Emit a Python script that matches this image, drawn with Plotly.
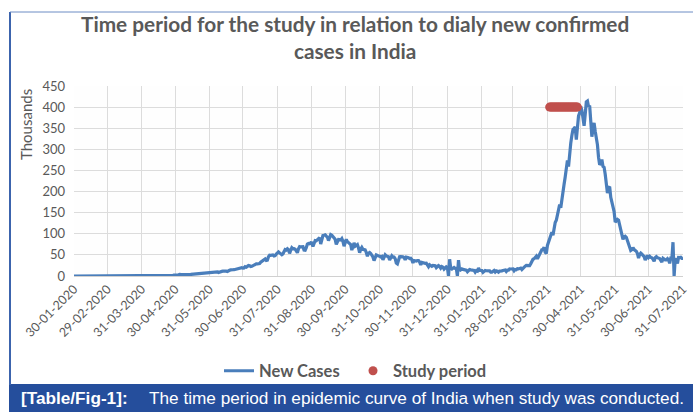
import pandas as pd
import plotly.graph_objects as go

# ---------------- data (thousands of new cases per day) ----------------
start_date = "2020-01-30"
new_cases_k = [
    # Jan 2020 (30-31)
    0, 0,
    # Feb 2020
    0, 0.003, 0.001, 0, 0, 0, 0, 0, 0, 0, 0, 0, 0, 0, 0, 0, 0, 0, 0, 0, 0, 0, 0, 0, 0, 0, 0, 0, 0,
    # Mar 2020
    0, 0.002, 0, 0.02, 0.002, 0.001, 0.003, 0.005, 0.01, 0.02, 0.02, 0.01, 0.01, 0.02, 0.02, 0.01,
    0.01, 0.02, 0.03, 0.05, 0.07, 0.08, 0.1, 0.08, 0.09, 0.1, 0.15, 0.16, 0.1, 0.23, 0.3,
    # Apr 2020
    0.4, 0.5, 0.5, 0.6, 0.6, 0.5, 0.6, 0.5, 0.6, 0.9, 0.9, 0.9, 0.8, 1.0, 1.1, 0.9, 1.0, 1.1, 1.3, 1.5,
    1.4, 1.4, 1.4, 1.7, 1.8, 1.5, 1.6, 1.5, 1.9, 1.8,
    # May 2020
    2.3, 2.6, 2.5, 3.9, 3.0, 3.6, 3.6, 3.3, 3.3, 4.2, 4.2, 3.6, 3.5, 3.7, 3.9, 4.9, 5.0, 4.6, 5.6, 5.6,
    6.0, 6.1, 6.6, 7.0, 6.5, 6.5, 7.2, 7.4, 7.9, 8.4, 8.8,
    # Jun 2020
    8.4, 7.8, 8.9, 9.3, 9.9, 9.9, 9.9, 8.4, 9.9, 11.0, 10.9, 11.5, 11.9, 12.0, 11.5, 10.7, 12.9, 13.6,
    14.5, 15.4, 14.8, 14.9, 15.7, 16.9, 16.9, 17.3, 18.6, 19.9, 19.5, 18.5,
    # Jul 2020
    19.1, 21.9, 20.9, 22.8, 24.9, 24.2, 22.3, 23.0, 24.9, 26.5, 27.1, 28.6, 28.5, 28.2, 29.4, 32.7,
    34.9, 34.8, 38.9, 40.4, 37.1, 37.7, 45.7, 49.3, 48.9, 50.0, 49.9, 47.7, 48.5, 52.1, 55.1,
    # Aug 2020
    57.1, 54.7, 52.9, 50.6, 52.5, 56.3, 62.5, 61.5, 64.4, 62.1, 53.6, 60.9, 66.9, 64.5, 65.0, 63.5,
    57.9, 55.1, 64.5, 69.7, 68.9, 69.9, 69.2, 61.4, 60.9, 67.2, 75.8, 77.3, 76.5, 78.8, 78.5,
    # Sep 2020
    69.9, 78.4, 83.9, 83.3, 86.4, 90.6, 90.8, 75.8, 89.7, 95.7, 96.6, 97.6, 94.4, 92.1, 83.8, 90.1,
    97.9, 96.4, 93.3, 92.6, 86.9, 75.1, 83.3, 86.5, 86.1, 85.4, 88.6, 82.2, 70.6, 80.5,
    # Oct 2020
    86.8, 81.5, 79.5, 75.8, 74.4, 61.3, 72.0, 78.5, 70.5, 73.3, 74.4, 66.7, 55.3, 63.5, 67.7, 63.3,
    62.2, 61.9, 55.7, 46.8, 54.0, 55.8, 53.4, 50.1, 45.1, 36.5, 43.9, 49.9, 48.6, 48.3, 46.9,
    # Nov 2020
    45.2, 46.3, 38.3, 46.3, 50.2, 47.6, 45.7, 45.7, 38.1, 44.3, 47.9, 44.9, 44.7, 41.1, 30.5, 28.6,
    38.6, 45.6, 45.9, 46.2, 45.2, 44.1, 37.9, 44.4, 44.5, 43.1, 41.3, 41.8, 38.8, 31.1,
    # Dec 2020
    36.6, 35.5, 35.6, 36.6, 36.6, 32.9, 26.6, 32.1, 31.5, 29.4, 30.0, 30.3, 27.0, 22.1, 26.4, 24.0,
    22.9, 25.2, 25.0, 24.3, 19.6, 23.9, 24.7, 23.0, 18.7, 22.3, 21.0, 16.4, 20.5, 21.8, 20.0,
    # Jan 2021
    0, 39.5, 18.2, 16.5, 18.1, 20.3, 18.1, 18.2, 0, 37.5, 12.6, 15.9, 16.9, 15.6, 15.2, 15.1,
    13.8, 10.1, 13.8, 15.2, 14.5, 14.3, 14.8, 13.2, 9.1, 12.7, 11.7, 18.9, 13.1, 13.1, 13.0,
    # Feb 2021
    8.6, 11.0, 12.9, 12.4, 11.7, 11.7, 12.1, 9.1, 9.1, 11.1, 12.9, 9.3, 12.1, 11.4, 9.1, 11.6,
    12.9, 12.2, 13.2, 13.9, 14.3, 10.6, 13.7, 13.7, 16.7, 16.6, 16.5, 16.8,
    # Mar 2021
    12.3, 15.5, 14.9, 17.4, 16.8, 18.3, 18.7, 15.4, 17.9, 22.9, 23.3, 24.9, 24.9, 26.3, 24.5, 28.9,
    35.9, 39.7, 40.9, 43.8, 46.9, 40.7, 47.3, 53.5, 59.1, 62.3, 62.7, 68.0, 56.2, 53.5, 72.3,
    # Apr 2021
    81.5, 89.1, 93.2, 103.6, 96.6, 115.7, 126.8, 131.9, 145.4, 152.9, 168.9, 161.7, 185.2, 200.7,
    217.4, 234.7, 261.5, 273.8, 259.2, 295.0, 314.8, 332.7, 346.8, 349.7, 352.9, 323.1, 360.9,
    379.3, 386.6, 401.9,
    # May 2021
    392.6, 368.1, 355.8, 382.3, 412.3, 414.2, 401.1, 403.7, 366.2, 329.9, 348.4, 362.7, 343.1,
    326.1, 311.2, 281.4, 263.5, 267.3, 276.1, 259.6, 257.3, 240.8, 222.3, 196.4, 208.9, 211.3,
    186.4, 173.8, 165.5, 152.7, 127.5,
    # Jun 2021
    132.8, 134.2, 132.4, 120.5, 114.5, 100.6, 86.5, 92.6, 94.1, 91.7, 84.3, 80.8, 70.4, 60.5, 62.2,
    67.2, 62.5, 60.8, 58.4, 53.3, 42.6, 50.8, 54.1, 51.7, 48.7, 46.1, 37.6, 45.9, 48.8, 43.7,
    # Jul 2021
    46.6, 44.1, 43.1, 39.8, 34.7, 43.7, 45.9, 43.4, 42.8, 41.5, 37.2, 32.9, 41.8, 38.8, 38.1, 38.1,
    41.2, 38.2, 30.1, 42.0, 41.4, 80.0, 0, 39.7, 39.4, 29.7, 43.7, 43.5, 44.2, 41.6, 41.8,
]

study_start = "2021-04-02"
study_end = "2021-04-27"
study_level_k = 400

tick_labels = [
    "30-01-2020", "29-02-2020", "31-03-2020", "30-04-2020", "31-05-2020", "30-06-2020",
    "31-07-2020", "31-08-2020", "30-09-2020", "31-10-2020", "30-11-2020", "31-12-2020",
    "31-01-2021", "28-02-2021", "31-03-2021", "30-04-2021", "31-05-2021", "30-06-2021",
    "31-07-2021",
]
y_ticks = [0, 50, 100, 150, 200, 250, 300, 350, 400, 450]

# ---------------- derived ----------------
dates = pd.date_range(start_date, periods=len(new_cases_k), freq="D")
study_dates = pd.date_range(study_start, study_end, freq="D")
study_vals = [study_level_k] * len(study_dates)
tick_dates = [pd.to_datetime(t, format="%d-%m-%Y") for t in tick_labels]

# ---------------- layout geometry (pixels) ----------------
W, H = 693, 412
L, R, T, B = 74, 683, 86, 276


def px(x):
    return (x - L) / (R - L)


def py(y):
    return (B - y) / (B - T)


GRAY = "#595959"
FONT = "Lato"

fig = go.Figure()
fig.add_trace(go.Scatter(
    x=dates, y=new_cases_k, mode="lines", name="New Cases",
    line=dict(color="#4a7ebb", width=3.2),
))
fig.add_trace(go.Scatter(
    x=study_dates, y=study_vals, mode="markers", name="Study period",
    marker=dict(color="#c0504d", size=9),
))

fig.update_layout(
    width=W, height=H,
    margin=dict(l=L, r=W - R, t=T, b=H - B, autoexpand=False),
    paper_bgcolor="white", plot_bgcolor="#fefefe",
    font=dict(family=FONT, color=GRAY),
    showlegend=True,
    legend=dict(
        orientation="h", x=px(219), y=py(371), xanchor="left", yanchor="middle",
        font=dict(family=FONT, size=16.5, color=GRAY, weight="bold"),
        itemwidth=30, entrywidth=89, entrywidthmode="pixels",
        tracegroupgap=0, bgcolor="rgba(0,0,0,0)",
    ),
    xaxis=dict(
        type="date", range=[tick_dates[0], tick_dates[-1]],
        tickvals=tick_dates, ticktext=tick_labels, tickangle=-45,
        tickfont=dict(family=FONT, size=12.5, color=GRAY),
        showgrid=True, gridcolor="#dcdcdc", gridwidth=1,
        showline=True, linecolor="#d0d0d0", zeroline=False, ticks="",
        automargin=False,
    ),
    yaxis=dict(
        range=[0, 450], tickvals=y_ticks,
        tickfont=dict(family=FONT, size=13, color=GRAY),
        showgrid=True, gridcolor="#dcdcdc", gridwidth=1,
        zeroline=False, showline=False, ticks="", ticklabelstandoff=8,
        automargin=False,
    ),
)

# chart box border and caption bar
fig.add_shape(type="line", xref="paper", yref="paper",
              x0=px(10), x1=px(10), y0=py(12), y1=py(385),
              line=dict(color="#3c64ad", width=2))
fig.add_shape(type="line", xref="paper", yref="paper",
              x0=px(10), x1=px(700), y0=py(12), y1=py(12),
              line=dict(color="#6d8cc4", width=1))
fig.add_shape(type="rect", xref="paper", yref="paper",
              x0=px(9), x1=px(700), y0=py(384), y1=py(420),
              fillcolor="#254e9c", line=dict(width=0), layer="below")

# title
fig.add_annotation(
    xref="paper", yref="paper", x=px(355), y=py(37), xanchor="center", yanchor="middle",
    text="Time period for the study in relation to dialy new confirmed<br>cases in India",
    showarrow=False, font=dict(family=FONT, size=20.8, color=GRAY, weight="bold"),
)
# y-axis unit label
fig.add_annotation(
    xref="paper", yref="paper", x=px(26), y=py(125), xanchor="center", yanchor="middle",
    text="Thousands", textangle=-90, showarrow=False,
    font=dict(family=FONT, size=15, color=GRAY),
)
# caption
fig.add_annotation(
    xref="paper", yref="paper", x=px(19), y=py(398), xanchor="left", yanchor="middle",
    text="<b>[Table/Fig-1]:</b>",
    showarrow=False, font=dict(family="Liberation Sans", size=17.2, color="white"),
)
fig.add_annotation(
    xref="paper", yref="paper", x=px(147), y=py(398), xanchor="left", yanchor="middle",
    text="The time period in epidemic curve of India when study was conducted.",
    showarrow=False, font=dict(family="Liberation Sans", size=17.2, color="white"),
)

fig.write_html("out.html", config={"displayModeBar": False},
               post_script="document.body.style.margin='0';")
